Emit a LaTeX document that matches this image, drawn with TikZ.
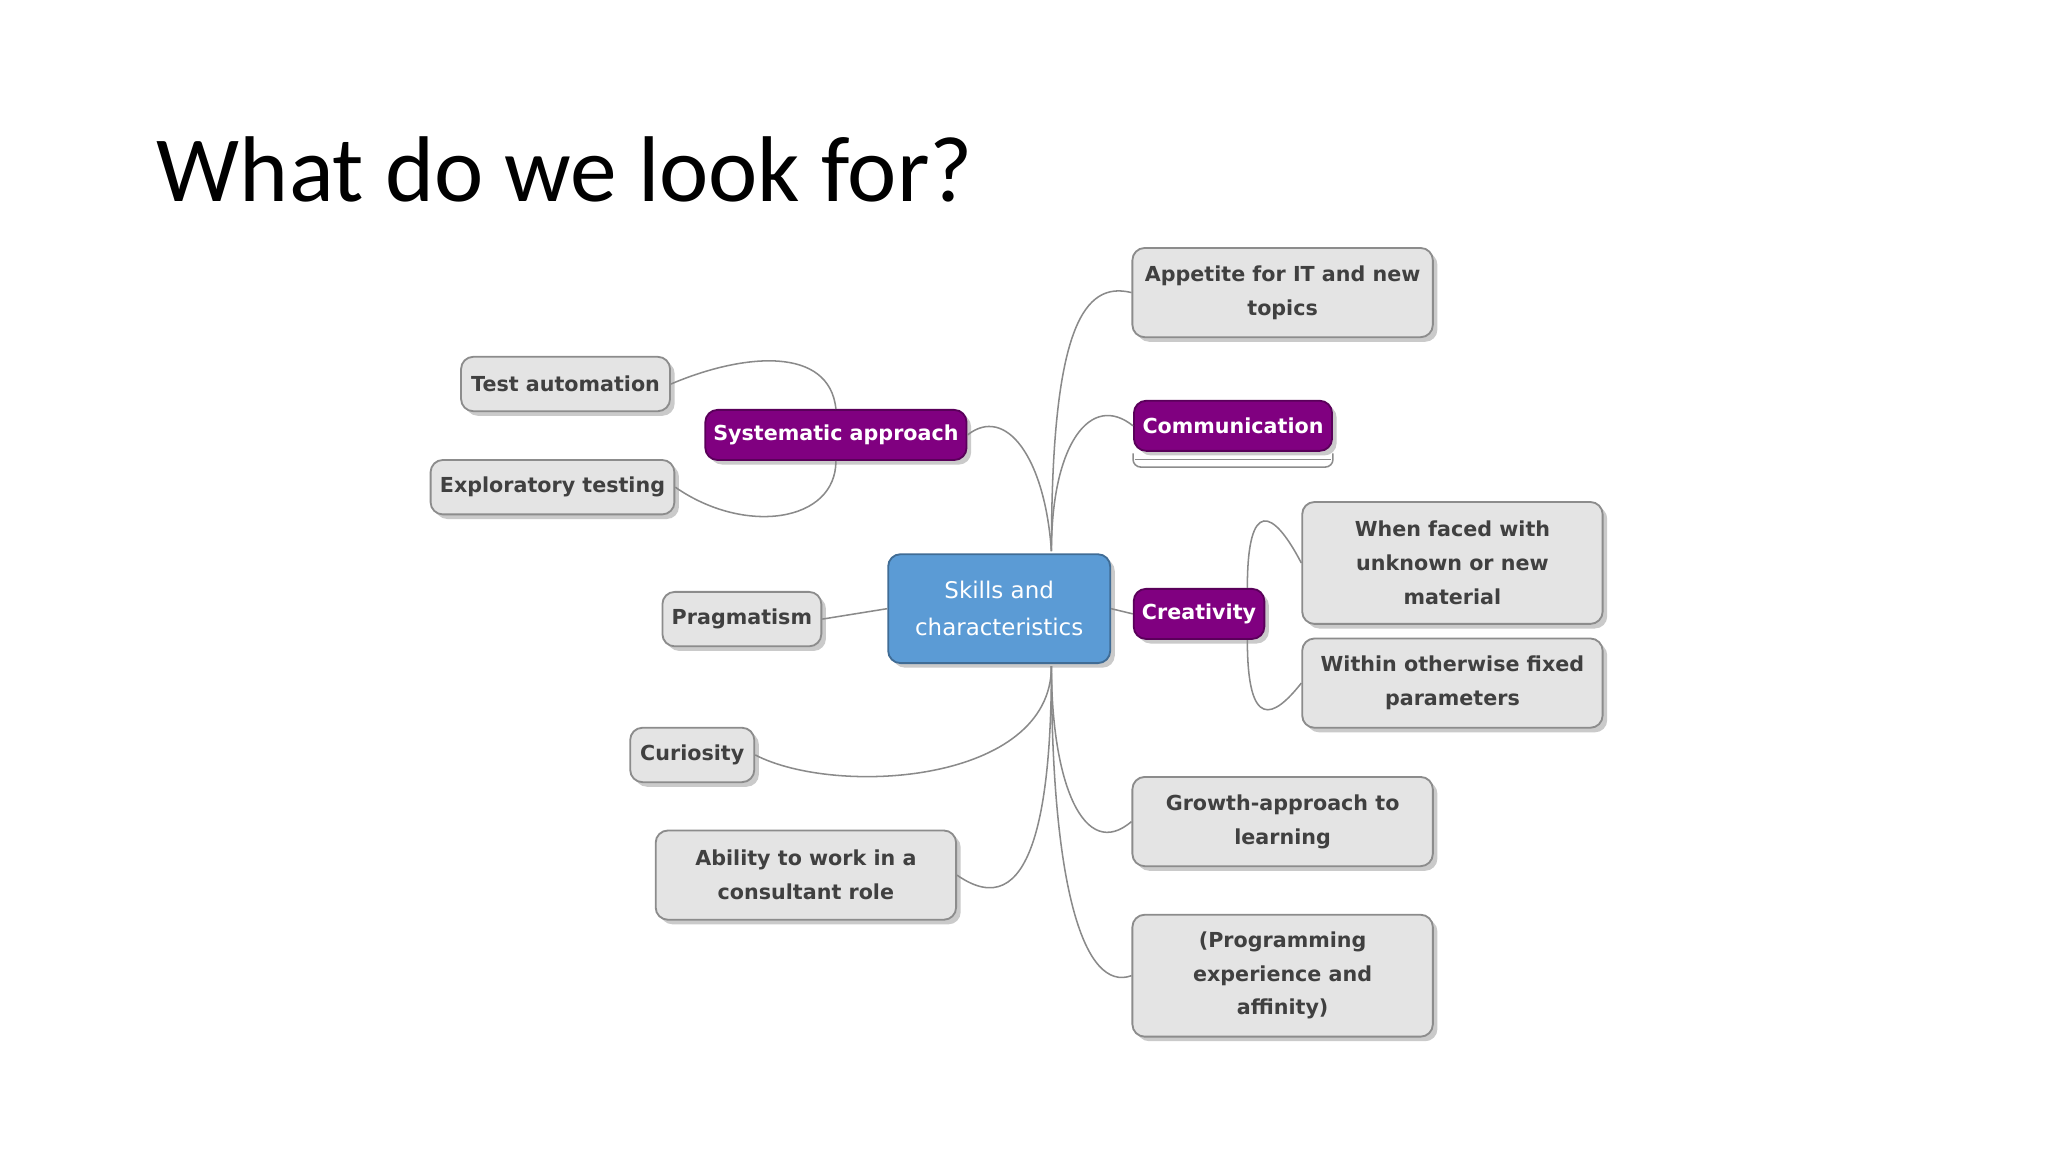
\documentclass[tikz,border=0pt]{standalone}
\usepackage{fontspec}
\setmainfont{DejaVu Sans}
\newfontfamily\titlefont{Carlito}
\usetikzlibrary{shadows}
\definecolor{boxfill}{HTML}{E4E4E4}
\definecolor{boxline}{HTML}{8C8C8C}
\definecolor{purp}{HTML}{800080}
\definecolor{hub}{HTML}{5B9BD5}
\definecolor{conn}{HTML}{8A8A8A}
\begin{document}
\begin{tikzpicture}[x=0.03cm,y=-0.03cm,
  base/.style={rounded corners=8pt,line width=1.2pt,align=center,font=\fontsize{13.5}{22}\selectfont\bfseries,
    drop shadow={shadow xshift=3pt,shadow yshift=-3pt,fill=black!35,opacity=0.6}},
  gbox/.style={base,fill=boxfill,draw=boxline,text=black!75,minimum height=1.25cm},
  pbox/.style={base,fill=purp,draw=purp!70!black,text=white,minimum height=1.15cm},
  cn/.style={draw=conn,line width=1pt}]
\useasboundingbox (0,0) rectangle (1568,882);
\node[font=\titlefont\fontsize{61}{70}\selectfont,anchor=west] (title) at (116,130) {What do we look for?};

\node[base,fill=hub,draw=hub!70!black,text=white,font=\fontsize{15}{24}\selectfont,minimum width=5.1cm,minimum height=2.5cm] (sk) at (765,466) {Skills and\\characteristics};
\node[gbox,minimum width=6.9cm,minimum height=2.05cm] (app) at (982,224) {Appetite for IT and new\\topics};
\node[pbox,minimum width=4.55cm] (com) at (944,326) {Communication};
\node[pbox,minimum width=6cm] (sys) at (640,333) {Systematic approach};
\node[gbox,minimum width=4.8cm] (ta) at (433,294) {Test automation};
\node[gbox,minimum width=5.6cm] (ex) at (423,373) {Exploratory testing};
\node[gbox,minimum width=3.65cm] (pr) at (568,474) {Pragmatism};
\node[pbox,minimum width=3cm] (cr) at (918,470) {Creativity};
\node[gbox,minimum width=6.9cm,minimum height=2.8cm] (wf) at (1112,431) {When faced with\\unknown or new\\material};
\node[gbox,minimum width=6.9cm,minimum height=2.05cm] (wi) at (1112,523) {Within otherwise fixed\\parameters};
\node[gbox,minimum width=2.85cm] (cu) at (530,578) {Curiosity};
\node[gbox,minimum width=6.9cm,minimum height=2.05cm] (ab) at (617,670) {Ability to work in a\\consultant role};
\node[gbox,minimum width=6.9cm,minimum height=2.05cm] (gr) at (982,629) {Growth-approach to\\learning};
\node[gbox,minimum width=6.9cm,minimum height=2.8cm] (pg) at (982,747) {(Programming\\experience and\\affinity)};

\draw[boxline,line width=1pt,rounded corners=5pt] ([yshift=-1pt]com.south west) -- ([yshift=-10pt]com.south west) -- ([yshift=-10pt]com.south east) -- ([yshift=-1pt]com.south east);
\draw[boxline,line width=1pt] ([yshift=-5pt,xshift=1pt]com.south west) -- ([yshift=-5pt,xshift=-1pt]com.south east);

\coordinate (ht) at (805,422);
\coordinate (hb) at (805,510);
\draw[cn] (ht) .. controls (805,250) and (830,215) .. (app.west);
\draw[cn] (ht) .. controls (805,340) and (835,300) .. (com.west);
\draw[cn] (ht) .. controls (800,350) and (770,310) .. (sys.east);
\draw[cn] (ta.east) .. controls (570,270) and (635,265) .. (sys.north);
\draw[cn] (ex.east) .. controls (570,410) and (640,400) .. (sys.south);
\draw[cn] (pr.east) -- (sk.west);
\draw[cn] (sk.east) -- (cr.west);
\draw[cn] (955,450) .. controls (955,380) and (975,390) .. (wf.west);
\draw[cn] (955,490) .. controls (955,560) and (975,550) .. (wi.west);
\draw[cn] (hb) .. controls (805,600) and (640,610) .. (cu.east);
\draw[cn] (hb) .. controls (805,620) and (790,710) .. (ab.east);
\draw[cn] (hb) .. controls (805,600) and (830,660) .. (gr.west);
\draw[cn] (hb) .. controls (805,680) and (830,760) .. (pg.west);
\end{tikzpicture}
\end{document}
